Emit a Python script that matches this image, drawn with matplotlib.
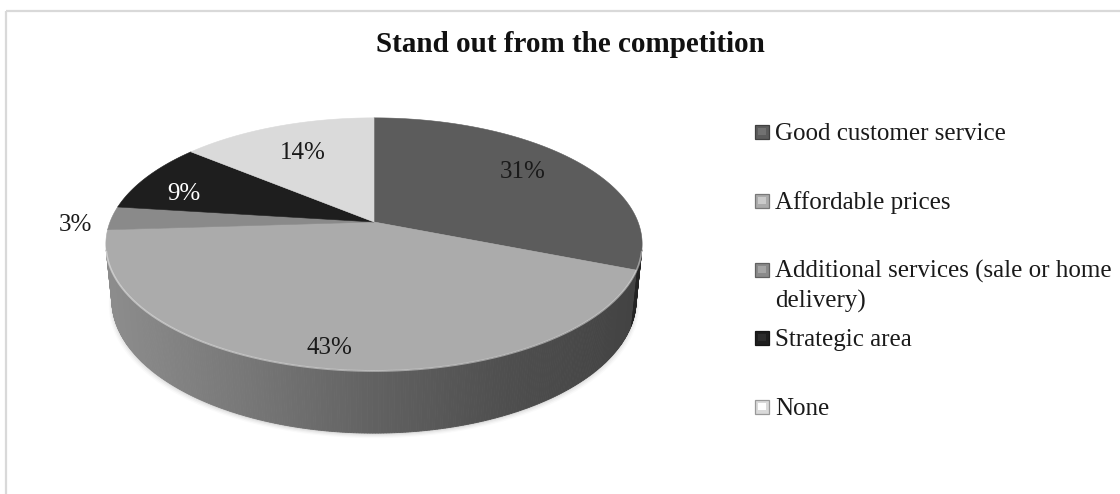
import numpy as np
import matplotlib
matplotlib.use("Agg")
import matplotlib.pyplot as plt
from matplotlib.patches import Polygon, Rectangle

# ---- data -------------------------------------------------------------
title = "Stand out from the competition"
categories = [
    "Good customer service",
    "Affordable prices",
    "Additional services (sale or home\ndelivery)",
    "Strategic area",
    "None",
]
shares = [31, 43, 3, 9, 14]
slice_grays = ["#5c5c5c", "#ababab", "#8a8a8a", "#1e1e1e", "#dadada"]
label_colors = ["#1a1a1a", "#1a1a1a", "#1a1a1a", "#ffffff", "#1a1a1a"]

# label placement: radius on the top face plus a small pixel nudge
label_radius = [0.76, 0.88, 1.14, 0.80, 0.70]
label_nudge = [(-6, -1), (-2, 1), (0, 7), (-6, 9), (0, 1)]

SERIF = ["Liberation Serif", "DejaVu Serif"]

# ---- canvas in pixel units -------------------------------------------
W, H = 1120, 494
fig = plt.figure(figsize=(W / 100, H / 100), dpi=100)
ax = fig.add_axes([0, 0, 1, 1])
ax.set_xlim(0, W)
ax.set_ylim(H, 0)
ax.axis("off")

# chart-area frame (only top and left edges are in view)
ax.plot([6, W], [11, 11], color="#d9d9d9", lw=1.6, solid_capstyle="butt", zorder=1)
ax.plot([6, 6], [11, H], color="#d9d9d9", lw=1.6, solid_capstyle="butt", zorder=1)

ax.text(570, 45, title, ha="center", va="center", fontsize=21,
        fontweight="bold", family=SERIF, color="#111111")

# ---- perspective projection of a tilted cylinder ---------------------
CX, CY = 374, 222          # screen position of the pie centre
RADIUS = 264               # pixels per unit radius at the centre depth
tilt = np.radians(27.6)
SN, CS = np.sin(tilt), np.cos(tilt)
DIST = 5.075               # camera distance in radius units
THICK = 0.242              # pie thickness in radius units


def project(x, y, z):
    v = y * SN + z * CS
    w = -y * CS + z * SN
    k = DIST / (DIST - w)
    return CX + RADIUS * x * k, CY - RADIUS * v * k


def to_rgb(hexstr):
    return np.array(matplotlib.colors.to_rgb(hexstr))


vals = np.array(shares, dtype=float)
bounds = 90.0 - 360.0 * np.concatenate([[0], np.cumsum(vals)]) / vals.sum()


def side_visible(theta):
    # outward normal of the wall faces the camera
    return -DIST * CS * np.sin(theta) - 1 > 0


# soft drop shadow under the base
tt = np.radians(np.linspace(0, 360, 361))
bx, by = project(np.cos(tt), np.sin(tt), -THICK)
for i, a in enumerate([0.05, 0.04, 0.03, 0.02]):
    g = 1.0 + 0.004 * i
    px = CX + (bx - CX) * g
    py = by + 1.5 + 1.2 * i
    ax.add_patch(Polygon(np.column_stack([px, py]), closed=True,
                         facecolor="black", alpha=a, lw=0, zorder=2))

# outer wall, shaded from left (lit) to right (dark)
for i in range(len(vals)):
    a0, a1 = np.radians(bounds[i]), np.radians(bounds[i + 1])
    n = max(int(abs(bounds[i] - bounds[i + 1]) * 2), 2)
    th = np.linspace(a0, a1, n + 1)
    base = to_rgb(slice_grays[i])
    for j in range(n):
        t0, t1 = th[j], th[j + 1]
        if not (side_visible(t0) or side_visible(t1)):
            continue
        p1 = project(np.cos(t0), np.sin(t0), 0)
        p2 = project(np.cos(t1), np.sin(t1), 0)
        p3 = project(np.cos(t1), np.sin(t1), -THICK)
        p4 = project(np.cos(t0), np.sin(t0), -THICK)
        xm = (p1[0] + p2[0]) / 2
        u = np.clip((xm - CX) / RADIUS, -1, 1)
        f = np.interp(u, [-1, -0.5, 0, 0.5, 1], [0.82, 0.70, 0.57, 0.46, 0.39])
        col = np.clip(base * f, 0, 1)
        ax.add_patch(Polygon([p1, p2, p3, p4], closed=True, facecolor=col,
                             edgecolor=col, lw=0.6, zorder=3))

# top faces of the slices
for i in range(len(vals)):
    th = np.radians(np.linspace(bounds[i], bounds[i + 1], 200))
    xs, ys = project(np.cos(th), np.sin(th), 0 * th)
    pts = np.vstack([[CX, CY], np.column_stack([xs, ys])])
    ax.add_patch(Polygon(pts, closed=True, facecolor=slice_grays[i],
                         edgecolor=slice_grays[i], lw=0.4, zorder=4))

# bevel highlight along the front rim
th = np.radians(np.linspace(180, 360, 400))
vis = side_visible(th)
hx, hy = project(np.cos(th[vis]), np.sin(th[vis]), 0 * th[vis])
ax.plot(hx, hy + 0.8, color="white", alpha=0.45, lw=1.3, zorder=5)

# percentage labels
for i in range(len(vals)):
    mid = np.radians((bounds[i] + bounds[i + 1]) / 2)
    r = label_radius[i]
    lx, ly = project(r * np.cos(mid), r * np.sin(mid), 0)
    dx, dy = label_nudge[i]
    ax.text(lx + dx, ly + dy, f"{shares[i]}%", ha="center", va="center",
            fontsize=18, family=SERIF, color=label_colors[i], zorder=6)

# legend
row0, step, line_gap = 132, 68.8, 30
for i, name in enumerate(categories):
    yc = row0 + step * i
    c = to_rgb(slice_grays[i])
    ax.add_patch(Rectangle((755, yc - 7), 14, 14, facecolor=c,
                           edgecolor=np.clip(c * 0.7, 0, 1), lw=0.9, zorder=6))
    ax.add_patch(Rectangle((758, yc - 4), 8, 7,
                           facecolor=np.clip(c * 1.12 + 0.04, 0, 1),
                           lw=0, zorder=7))
    for k, line in enumerate(name.split("\n")):
        ax.text(775, yc + 8 + k * line_gap, line, ha="left", va="baseline",
                fontsize=18, family=SERIF, color="#1a1a1a")

fig.savefig("out.png", dpi=100)
